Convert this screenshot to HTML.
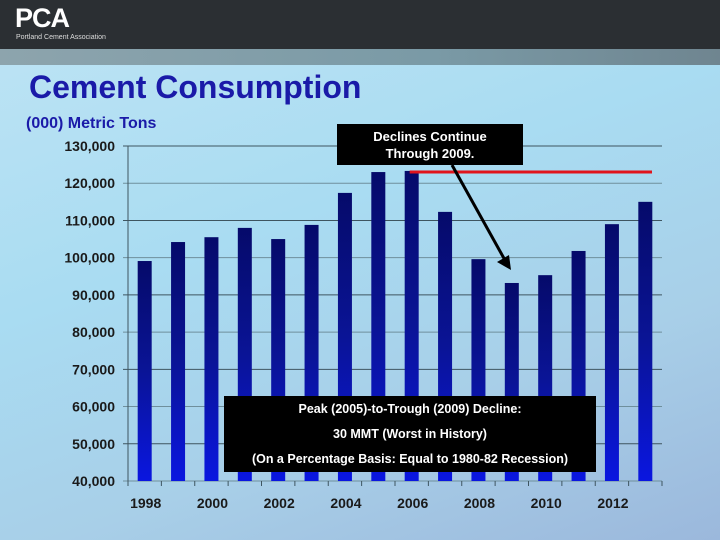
<!DOCTYPE html>
<html><head><meta charset="utf-8"><style>
body{margin:0;width:720px;height:540px;overflow:hidden;font-family:"Liberation Sans",sans-serif}
#bg{position:absolute;left:0;top:0;width:720px;height:540px;background:linear-gradient(160deg,#bfe4f4 0%,#a9dcf2 40%,#a8cfe8 70%,#9bb8dc 100%)}
#hdr{position:absolute;left:0;top:0;width:720px;height:49px;background:#2b2f33}
#band{position:absolute;left:0;top:49px;width:720px;height:16px;background:linear-gradient(90deg,#8da4ad,#7a9aa6 60%,#6f8590)}
</style></head><body>
<div id="bg"></div>
<div id="hdr">
 <div style="position:absolute;left:15px;top:3px;color:#fff;font-weight:bold;font-size:27px;letter-spacing:-1px">PCA</div>
 <div style="position:absolute;left:16px;top:34px;color:#ddd;font-size:7px">Portland Cement Association</div>
</div>
<div id="band"></div>
<div style="position:absolute;left:29px;top:69px;color:#1a1aa8;font-weight:bold;font-size:32px">Cement Consumption</div>
<div style="position:absolute;left:26px;top:115px;color:#1a1aa8;font-weight:bold;font-size:16px">(000) Metric Tons</div>
<svg id="c" width="720" height="540" style="position:absolute;left:0;top:0">
<defs><linearGradient id="bg1" x1="0" y1="0" x2="0" y2="1"><stop offset="0" stop-color="#050a6a"/><stop offset="0.5" stop-color="#0a1496"/><stop offset="1" stop-color="#0a16e0"/></linearGradient></defs>
</svg>
<script>
const years=[1998,1999,2000,2001,2002,2003,2004,2005,2006,2007,2008,2009,2010,2011,2012,2013];
const values=[99100,104200,105500,108000,105000,108800,117400,123000,123300,112300,99600,93200,95300,101800,109000,115000];
const yTicks=[40000,50000,60000,70000,80000,90000,100000,110000,120000,130000];
const xLabels=[1998,2000,2002,2004,2006,2008,2010,2012];
const svg=document.getElementById('c');const NS='http://www.w3.org/2000/svg';
const X0=128,X1=662,Y0=481,Y1=146,MIN=40000,MAX=130000;
const slot=(X1-X0)/years.length;
const y=v=>Y0-(v-MIN)/(MAX-MIN)*(Y0-Y1);
const xc=i=>X0+slot*(i+0.5);
function mk(t,a){const e=document.createElementNS(NS,t);for(const k in a)e.setAttribute(k,a[k]);svg.appendChild(e);return e;}
yTicks.forEach((t,i)=>{
 const g=mk('line',{x1:X0-5,x2:X1,y1:y(t),y2:y(t),stroke:i%2?'#3e5560':'#6f8f9c','stroke-width':1});
 
 
 const tx=mk('text',{x:115,y:y(t)+5,'text-anchor':'end','font-size':14,'font-weight':'bold',fill:'#1a1a1a','font-family':'Liberation Sans'});
 tx.textContent=t.toLocaleString('en-US');
 
 
});
let ax=mk('line',{x1:X0,x2:X0,y1:Y1,y2:Y0,stroke:'#3e5560'});


values.forEach((v,i)=>{
 const r=mk('rect',{x:xc(i)-7,y:y(v),width:14,height:Y0-y(v),fill:'url(#bg1)'});
 
 
});
for(let i=0;i<=years.length;i++){const t=mk('line',{x1:X0+slot*i,x2:X0+slot*i,y1:Y0,y2:Y0+5,stroke:'#3e5560'});
 
 }
xLabels.forEach(yr=>{const i=years.indexOf(yr);
 const tx=mk('text',{x:xc(i)+1,y:508,'text-anchor':'middle','font-size':14,'font-weight':'bold',fill:'#1a1a1a','font-family':'Liberation Sans'});
 tx.textContent=yr;
 
 });
const pk=y(values[7]);
const red=mk('line',{x1:xc(8)-2,x2:652,y1:pk,y2:pk,stroke:'#e0141c','stroke-width':3});


const ar=mk('line',{x1:452,y1:165,x2:506,y2:262,stroke:'#000','stroke-width':3});


const ah=mk('polygon',{points:'511,270 497,262 509,255',fill:'#000'});


</script>
<div style="position:absolute;left:337px;top:124px;width:186px;height:41px;background:#000;color:#fff;font-size:13px;font-weight:bold;text-align:center;line-height:17px;padding-top:4px;box-sizing:border-box">Declines Continue<br>Through 2009.</div>
<div style="position:absolute;left:224px;top:396px;width:372px;height:76px;background:#000;color:#fff;font-size:12.5px;font-weight:bold;text-align:center;line-height:25px;padding-top:1px;box-sizing:border-box">Peak (2005)-to-Trough (2009) Decline:<br>30 MMT (Worst in History)<br>(On a Percentage Basis: Equal to 1980-82 Recession)</div>
</body></html>
